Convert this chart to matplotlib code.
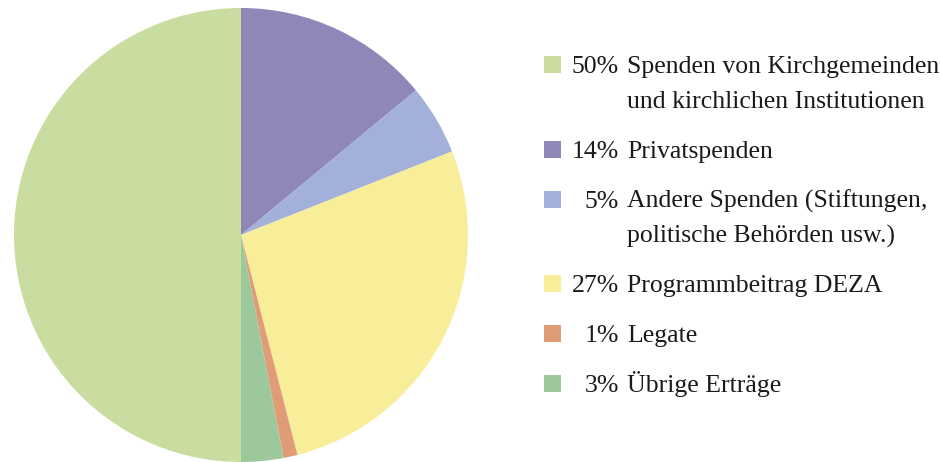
import matplotlib.pyplot as plt
from matplotlib.patches import Rectangle

# pie order, clockwise from 12 o'clock
shares = [14, 5, 27, 1, 3, 50]
colors = ["#8e87b8", "#a3b1da", "#f8ee9a", "#e09b77", "#9dc89c", "#cadda0"]

# legend order (top to bottom)
legend_idx = [5, 0, 1, 2, 3, 4]
legend_pct = ["50%", "14%", "5%", "27%", "1%", "3%"]
legend_txt = [
    "Spenden von Kirchgemeinden\nund kirchlichen Institutionen",
    "Privatspenden",
    "Andere Spenden (Stiftungen,\npolitische Behörden usw.)",
    "Programmbeitrag DEZA",
    "Legate",
    "Übrige Erträge",
]

W, H = 940, 462
fig = plt.figure(figsize=(W / 100, H / 100), dpi=100)
ax = fig.add_axes([14 / W, 0 / H, 454 / W, 454 / H])
ax.pie(shares, colors=colors, startangle=90, counterclock=False,
       wedgeprops=dict(linewidth=0))
ax.set_xlim(-1, 1)
ax.set_ylim(-1, 1)
ax.set_aspect("equal")
ax.axis("off")

font = dict(family="Liberation Serif", size=18.5, color="#1a1a1a")
baseline = [73, 158, 208, 292, 342, 392]  # px from top, first line baseline
for k, (i, pct, txt) in enumerate(zip(legend_idx, legend_pct, legend_txt)):
    yb = baseline[k]
    fig.patches.append(Rectangle((544 / W, 1 - yb / H), 17 / W, 17 / H,
                                 transform=fig.transFigure,
                                 facecolor=colors[i], edgecolor="none"))
    fig.text(619 / W, 1 - yb / H, pct, ha="right", va="baseline", **font)
    for j, line in enumerate(txt.split("\n")):
        fig.text(627 / W, 1 - (yb + j * 35) / H, line,
                 ha="left", va="baseline", **font)

fig.savefig("out.png", dpi=100)
